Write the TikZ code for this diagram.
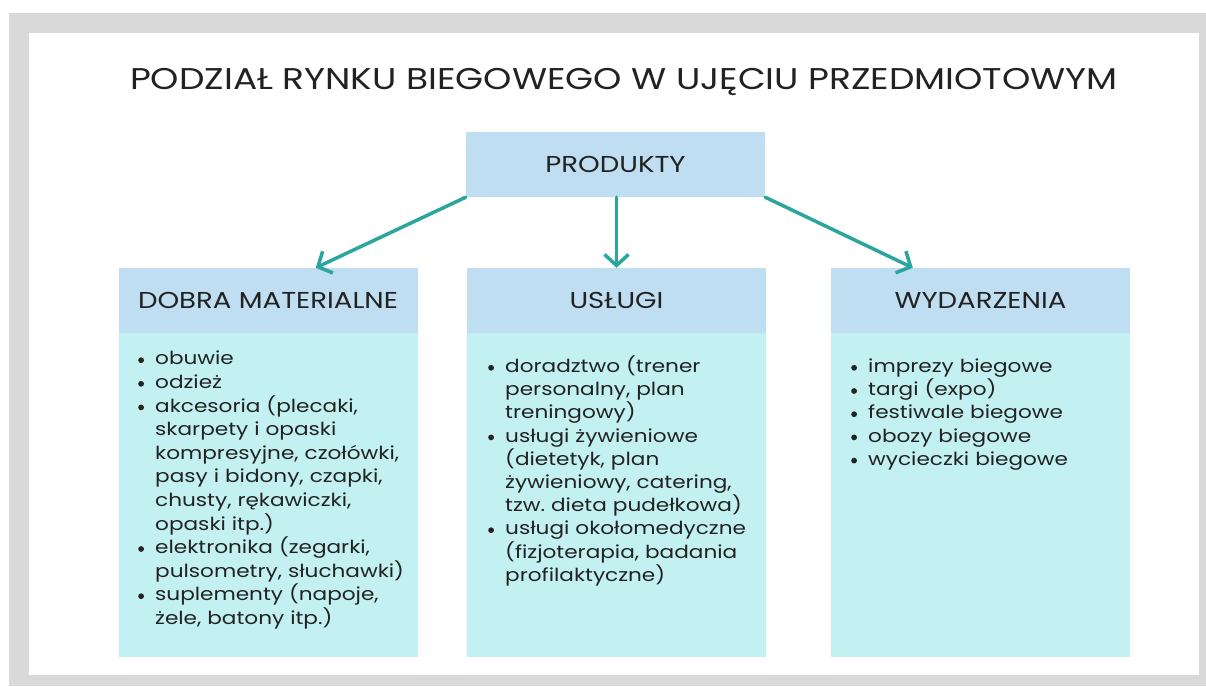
\documentclass[tikz,border=0pt]{standalone}
\usepackage{fontspec}
\setmainfont{Poppins}[FakeStretch=1.2]
\usetikzlibrary{arrows.meta}
\definecolor{framegray}{HTML}{D9D9D9}
\definecolor{hdrblue}{HTML}{BFDEF2}
\definecolor{bodcyan}{HTML}{C3F1F1}
\definecolor{arrowc}{HTML}{2AA69E}
\definecolor{ink}{HTML}{222222}
\newcommand\bitem{\par\hangindent=17pt\hangafter=1\noindent\makebox[17pt][l]{\tikz[baseline=0pt]\fill[ink] (3pt,4.6pt) circle (2.9pt);}}
\frenchspacing
\begin{document}
\begin{tikzpicture}[x=1pt,y=-1pt,
  hdrbox/.style={fill=hdrblue, minimum width=299pt, minimum height=65pt, inner sep=0pt, font=\fontsize{23}{27}\selectfont, text=ink},
  bodbox/.style={fill=bodcyan, minimum width=299pt, minimum height=324pt, inner sep=0pt},
  listtext/.style={anchor=north west, inner sep=0pt, text width=290pt, align=left, font=\fontsize{18}{23.6}\selectfont\frenchspacing, text=ink},
  conn/.style={draw=arrowc, line width=3.5pt, line cap=round, -{Straight Barb[length=11pt,width=24pt]}}]
\useasboundingbox (0,0) rectangle (1206,686);
\fill[framegray] (9,13) rectangle (1206,686);
\fill[white] (29,33) rectangle (1199,675);
\node[font=\fontsize{30}{34}\selectfont, text=ink] (title) at (624,82) {PODZIAŁ RYNKU BIEGOWEGO W UJĘCIU PRZEDMIOTOWYM};
\node[hdrbox] (prod) at (615.5,164.5) {PRODUKTY};
\node[hdrbox] (dobra) at (268,300.5) {DOBRA MATERIALNE};
\node[hdrbox] (uslugi) at (616.5,300.5) {USŁUGI};
\node[hdrbox] (wyd) at (980.5,300.5) {WYDARZENIA};
\node[bodbox, anchor=north] (dobrab) at (dobra.south) {};
\node[bodbox, anchor=north] (uslugib) at (uslugi.south) {};
\node[bodbox, anchor=north] (wydb) at (wyd.south) {};
\node[listtext] (dobral) at (138,341) {\bitem\rule{0pt}{17pt}obuwie
\bitem odzież
\bitem akcesoria (plecaki,\newline skarpety i opaski\newline kompresyjne, czołówki,\newline pasy i bidony, czapki,\newline chusty, rękawiczki,\newline opaski itp.)
\bitem elektronika (zegarki,\newline pulsometry, słuchawki)
\bitem suplementy (napoje,\newline żele, batony itp.)\par};
\node[listtext, font=\fontsize{18}{23.2}\selectfont\frenchspacing] (uslugil) at (488,349) {\bitem\rule{0pt}{17pt}doradztwo (trener\newline personalny, plan\newline treningowy)
\bitem usługi żywieniowe\newline (dietetyk, plan\newline żywieniowy, catering,\newline tzw. dieta pudełkowa)
\bitem usługi okołomedyczne\newline (fizjoterapia, badania\newline profilaktyczne)\par};
\node[listtext, font=\fontsize{18}{23.2}\selectfont\frenchspacing] (wydl) at (851,349) {\bitem\rule{0pt}{17pt}imprezy biegowe
\bitem targi (expo)
\bitem festiwale biegowe
\bitem obozy biegowe
\bitem wycieczki biegowe\par};
\draw[conn] (prod.south west) -- ([xshift=-102pt]dobra.north east);
\draw[conn] (uslugi.north |- prod.south) -- (uslugi.north);
\draw[conn] (prod.south east) -- ([xshift=82pt]wyd.north west);
\end{tikzpicture}
\end{document}
